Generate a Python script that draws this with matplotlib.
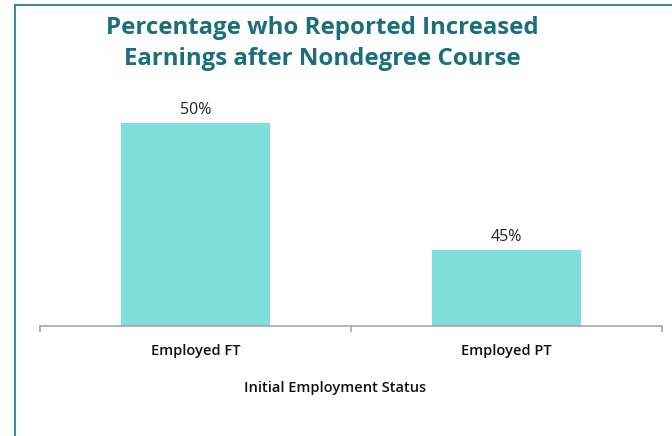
import matplotlib
matplotlib.use("Agg")
import matplotlib.pyplot as plt
from matplotlib.lines import Line2D

categories = ["Employed FT", "Employed PT"]
values = [50, 45]
value_labels = ["50%", "45%"]
title = "Percentage who Reported Increased\nEarnings after Nondegree Course"
xlabel = "Initial Employment Status"

plt.rcParams['font.family'] = ['Open Sans', 'DejaVu Sans']

W, H = 672, 436
fig = plt.figure(figsize=(W/100, H/100), dpi=100)
fig.patch.set_facecolor("white")

ax = fig.add_axes([40/W, 1-326/H, 622/W, 226/H])
x = list(range(len(categories)))
bars = ax.bar(x, values, width=0.48, color="#7EDED9", bottom=0)
ax.set_ylim(42, 42 + 226/25.4)
ax.set_xlim(-0.5, len(categories) - 0.5)

for xi, v, lab in zip(x, values, value_labels):
    ax.annotate(lab, (xi, v), xytext=(0, 3.5), textcoords="offset points",
                ha="center", va="bottom", fontsize=11.5, color="#222222")

for s in ["top", "right", "left"]:
    ax.spines[s].set_visible(False)
ax.spines["bottom"].set_color("#A6A6A6")
ax.spines["bottom"].set_linewidth(1.2)
ax.set_yticks([])
ax.set_xticks(x)
ax.set_xticklabels(categories, fontsize=10.5, color="#111111", fontweight="semibold")
ax.tick_params(axis="x", which="major", length=0, pad=13)
ax.set_xticks([i - 0.5 for i in range(len(categories) + 1)], minor=True)
ax.tick_params(axis="x", which="minor", length=4, color="#A6A6A6", width=1.2)
ax.set_xlabel(xlabel, fontsize=10.5, color="#111111", fontweight="semibold")
ax.xaxis.set_label_coords((335-40)/622, -(388-326)/226, transform=ax.transAxes)
ax.xaxis.label.set_va("center")

fig.text(322/W, 1-43.5/H, title, ha="center", va="center", fontsize=17.3,
         fontweight="bold", color="#1B6F7B", linespacing=1.4)

frame_color = "#3E8C9C"
fig.add_artist(Line2D([15/W, 15/W], [0, 1-5/H], color=frame_color, lw=1.5))
fig.add_artist(Line2D([15/W, 1], [1-5/H, 1-5/H], color=frame_color, lw=1.5))

fig.savefig("out.png", dpi=100)
